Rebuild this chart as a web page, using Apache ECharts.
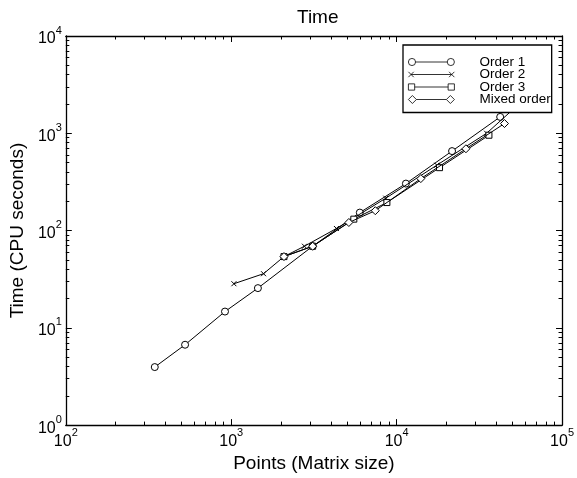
<!DOCTYPE html>
<html><head><meta charset="utf-8">
<script src="https://cdn.jsdelivr.net/npm/echarts@6/dist/echarts.min.js"></script>
<style>html,body{margin:0;padding:0;background:#fff}#c{width:577px;height:478px}</style>
</head><body><div id="c"></div>
<script>
// ---- data ----
var seriesNames = ['Order 1', 'Order 2', 'Order 3', 'Mixed order'];
var order1 = [[345,3.95],[526,6.7],[917,14.7],[1450,25.6],[3107,69],[5990,153],[11380,304],[21630,656],[42270,1473]];
var order2 = [[1038,28.4],[1568,36],[2084,54],[2771,69],[4325,105],[8600,215],[17500,470],[35000,1000],[70000,2900]];
var order3 = [[2084,54],[3107,69],[5510,131],[8730,194],[18170,443],[36140,955]];
var mixed  = [[2084,54],[3107,69],[5143,121],[7430,160],[14000,342],[26240,693],[44870,1259]];
var xMajor = [100,1000,10000,100000];
var yMajor = [1,10,100,1000,10000];

function minorList(lo, hi){
  var out=[];
  for (var d=lo; d<hi; d*=10) for (var k=2;k<=9;k++) out.push(d*k);
  return out;
}
var xMinor = minorList(100,100000);
var yMinor = minorList(1,10000);

var FONT = 'Liberation Sans, Arial, sans-serif';
var rich = {
  b:{fontFamily:FONT,fontSize:16,color:'#000',verticalAlign:'bottom',lineHeight:22},
  s:{fontFamily:FONT,fontSize:11,color:'#000',verticalAlign:'top',lineHeight:22}
};
function powFmt(v){ var e=Math.round(Math.log10(v)); return '{b|10}{s|'+e+'}'; }

var LW = 1.3;
function mkAxis(kind, pos, isMajor, labels){
  var maj = kind==='x'? xMajor : yMajor;
  var ticks = isMajor ? maj : (kind==='x'? xMinor : yMinor);
  return {
    type:'log', logBase:10, gridIndex:0, position:pos,
    min: maj[0], max: maj[maj.length-1],
    axisLine:{show:isMajor, onZero:false, lineStyle:{color:'#000',width:LW}},
    axisTick:{show:true, inside:true, length: isMajor?6:3.5, customValues:ticks, lineStyle:{color:'#000',width:1}},
    axisLabel:{show:!!labels, customValues:maj, formatter:powFmt, rich:rich, margin: kind==='x'?2:4},
    splitLine:{show:false}, minorTick:{show:false}, minorSplitLine:{show:false},
    name: labels ? (kind==='x'?'Points (Matrix size)':'Time (CPU seconds)') : '',
    nameLocation:'middle', nameGap: kind==='x'?21:29,
    nameTextStyle:{fontFamily:FONT,fontSize:19,color:'#000'}
  };
}

var ordIcon = {
  'Order 1':'path://M0.5,4a3.5,3.5 0 1,0 7,0a3.5,3.5 0 1,0 -7,0M7.5,4L38.5,4M38.5,4a3.5,3.5 0 1,0 7,0a3.5,3.5 0 1,0 -7,0',
  'Order 2':'path://M1.5,1.5L6.5,6.5M1.5,6.5L6.5,1.5M4,4L42,4M39.5,1.5L44.5,6.5M39.5,6.5L44.5,1.5',
  'Order 3':'path://M1,1L7,1L7,7L1,7ZM7,4L39,4M39,1L45,1L45,7L39,7Z',
  'Mixed order':'path://M4,0L8,4L4,8L0,4ZM8,4L38,4M42,0L46,4L42,8L38,4Z'
};
var sym = {
  'Order 1':'circle',
  'Order 2':'path://M0,0L10,10M0,10L10,0',
  'Order 3':'rect',
  'Mixed order':'path://M5,0L10,5L5,10L0,5Z'
};
var symSize = {'Order 1':7,'Order 2':5,'Order 3':6,'Mixed order':8};
var datas = [order1, order2, order3, mixed];

var series = seriesNames.map(function(n,i){
  return {
    name:n, type:'line', data:datas[i], xAxisIndex:0, yAxisIndex:0,
    symbol:sym[n], symbolSize:symSize[n], showAllSymbol:true,
    lineStyle:{color:'#000',width:1},
    itemStyle:{color:'#fff',borderColor:'#000',borderWidth:1},
    emphasis:{disabled:true}, animation:false, clip:true, z: 2+i
  };
});

var chart = echarts.init(document.getElementById('c'), null, {renderer:'canvas'});
chart.setOption({
  backgroundColor:'#fff',
  animation:false,
  title:{text:'Time', left:292, top:3, textStyle:{fontFamily:FONT,fontSize:19,fontWeight:'normal',color:'#000'}},
  grid:{left:62, right:13, top:36, bottom:51, containLabel:false},
  xAxis:[ mkAxis('x','bottom',true,true), mkAxis('x','top',true,false), mkAxis('x','bottom',false,false), mkAxis('x','top',false,false)],
  yAxis:[ mkAxis('y','left',true,true), mkAxis('y','right',true,false), mkAxis('y','left',false,false), mkAxis('y','right',false,false)],
  legend:{
    orient:'vertical', left:403, top:45, width:148,
    data: seriesNames.map(function(n){return {name:n, icon:ordIcon[n]};}),
    itemWidth:46, itemHeight:8, itemGap:-1.5, symbolKeepAspect:true,
    itemStyle:{color:'#fff',borderColor:'#000',borderWidth:0.8},
    padding:[10,1,6,5],
    backgroundColor:'#fff', borderColor:'#000', borderWidth:LW, borderRadius:0,
    textStyle:{fontFamily:FONT,fontSize:13.5,color:'#000',lineHeight:12.5,padding:[0,0,0,20]},
    selectedMode:false
  },
  series: series
});
</script></body></html>
